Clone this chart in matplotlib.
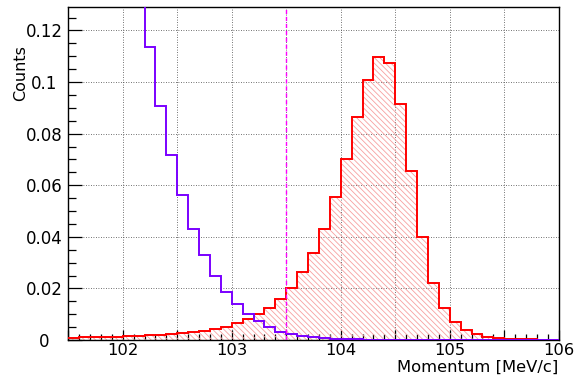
import numpy as np
import matplotlib
matplotlib.use("Agg")
import matplotlib.pyplot as plt
from matplotlib.ticker import MultipleLocator, FixedLocator, FuncFormatter

# ---- data -------------------------------------------------------------
bin_width = 0.1
x_lo, x_hi = 101.5, 106.0
edges = np.round(np.arange(x_lo, x_hi + bin_width / 2, bin_width), 2)

# red (hatched) histogram, 45 bins from 101.5 to 106.0
red_counts = [
    0.0009, 0.0010, 0.0011, 0.0012, 0.0013,
    0.0015, 0.0017, 0.0019, 0.0021, 0.0024,
    0.0028, 0.0032, 0.0036, 0.0044, 0.0052,
    0.0065, 0.0080, 0.0101, 0.0125, 0.0160,
    0.0200, 0.0264, 0.0336, 0.0429, 0.0553,
    0.0700, 0.0863, 0.1008, 0.1096, 0.1072,
    0.0913, 0.0655, 0.0400, 0.0222, 0.0123,
    0.0069, 0.0039, 0.0022, 0.0013, 0.0008,
    0.0004, 0.0003, 0.0002, 0.0001, 0.0001,
]

# violet histogram (left part runs off the top of the frame)
violet_counts = [
    0.52, 0.46, 0.40, 0.33, 0.27,
    0.21, 0.16, 0.1135, 0.0907, 0.0718,
    0.0562, 0.0431, 0.0329, 0.0250, 0.0187,
    0.0141, 0.0100, 0.0073, 0.0052, 0.0032,
    0.0023, 0.0016, 0.0010, 0.0008, 0.0005,
    0.0003, 0.0002, 0.0001, 0.0001, 0.0001,
    0.0001, 0.0001, 0.0001, 0.0001, 0.0001,
    0.0001, 0.0001, 0.0001, 0.0001, 0.0001,
    0.0001, 0.0001, 0.0001, 0.0001, 0.0001,
]

cut_value = 103.5
y_max = 0.1292
x_tick_labels = [102, 103, 104, 105, 106]
y_tick_values = [0, 0.02, 0.04, 0.06, 0.08, 0.1, 0.12]
y_tick_labels = ["0", "0.02", "0.04", "0.06", "0.08", "0.1", "0.12"]

# ---- figure -----------------------------------------------------------
W, H = 576, 378
dpi = 100
fig = plt.figure(figsize=(W / dpi, H / dpi), dpi=dpi)
L, R, B, T = 68.3, 558.7, 340.0, 6.7
ax = fig.add_axes([L / W, 1 - B / H, (R - L) / W, (B - T) / H])

red = "#ff0000"
violet = "#7a00ff"
hatch_col = "#f7a0a0"
plt.rcParams["hatch.color"] = hatch_col
plt.rcParams["hatch.linewidth"] = 0.6

ax.stairs(red_counts, edges, fill=True, facecolor="none", edgecolor=hatch_col,
          hatch="\\" * 6, linewidth=0, zorder=1)
ax.stairs(red_counts, edges, baseline=None, color=red, linewidth=1.4, zorder=3)
ax.stairs(violet_counts, edges, baseline=None, color=violet, linewidth=1.4, zorder=4)
ax.axvline(cut_value, color="#ff00ff", linewidth=1.0, linestyle=(0, (3, 2)), zorder=5)

ax.set_xlim(x_lo, x_hi)
ax.set_ylim(0, y_max)

ax.xaxis.set_major_locator(MultipleLocator(0.5))
ax.xaxis.set_minor_locator(MultipleLocator(0.1))
ax.xaxis.set_major_formatter(FuncFormatter(
    lambda v, p: f"{int(round(v))}" if int(round(v)) in x_tick_labels and abs(v - round(v)) < 1e-6 else ""))
ax.yaxis.set_major_locator(FixedLocator(y_tick_values))
ax.yaxis.set_minor_locator(MultipleLocator(0.005))
ax.set_yticklabels(y_tick_labels)

ax.tick_params(axis="both", which="both", direction="in", top=False, right=False,
               colors="black", width=0.9)
ax.tick_params(axis="x", which="major", length=7.0, pad=2.0, labelsize=11.8)
ax.tick_params(axis="x", which="minor", length=4.3)
ax.tick_params(axis="y", which="major", length=10, pad=17.5, labelsize=12)
ax.tick_params(axis="y", which="minor", length=5.5)
for lab in ax.get_yticklabels():
    lab.set_horizontalalignment("center")

ax.grid(True, which="major", color="#444444", linestyle=(0, (1, 2)), linewidth=0.6)
ax.set_axisbelow(True)
for s in ax.spines.values():
    s.set_linewidth(1.0)
    s.set_color("black")

fig.text(R / W, 1 - 371.5 / H, "Momentum [MeV/c]", ha="right", va="baseline", fontsize=11.8)
fig.text(21 / W, 1 - 45 / H, "Counts", rotation=90, ha="center", va="top", fontsize=11.5)

fig.savefig("out.png", dpi=dpi)
